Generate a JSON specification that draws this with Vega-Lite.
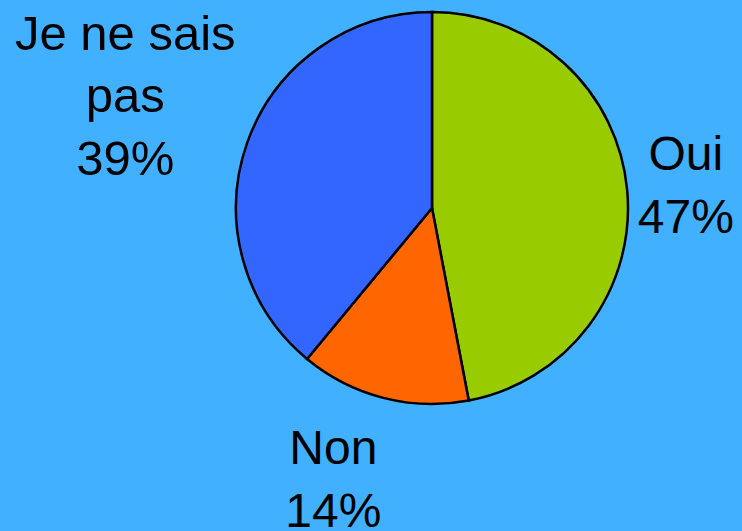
{
  "$schema": "https://vega.github.io/schema/vega-lite/v6.json",
  "width": 620,
  "height": 416,
  "autosize": {"type": "none"},
  "padding": {"left": 122, "top": 0, "right": 0, "bottom": 115},
  "background": "#40B0FF",
  "view": {"stroke": null},
  "data": {
    "values": [
      {"cat": "Oui", "k": 1, "value": 47, "label": "Oui\n47%"},
      {"cat": "Non", "k": 2, "value": 14, "label": "Non\n14%"},
      {"cat": "Je ne sais pas", "k": 3, "value": 39, "label": "Je ne sais\npas\n39%"}
    ]
  },
  "encoding": {
    "theta": {"field": "value", "type": "quantitative", "stack": true},
    "order": {"field": "k", "type": "quantitative"}
  },
  "layer": [
    {
      "mark": {"type": "arc", "outerRadius": 196, "stroke": "black", "strokeWidth": 2.5},
      "encoding": {
        "color": {
          "field": "cat",
          "type": "nominal",
          "scale": {"domain": ["Oui", "Non", "Je ne sais pas"], "range": ["#99CC00", "#FF6600", "#3366FF"]},
          "legend": null
        }
      }
    },
    {
      "mark": {"type": "text", "radius": 255, "dy": -28, "fontSize": 48, "font": "Liberation Sans", "lineBreak": "\n", "lineHeight": 63, "align": "center", "baseline": "middle", "color": "black"},
      "encoding": {"text": {"condition": {"test": "datum.cat === 'Oui'", "field": "label"}, "value": ""}}
    },
    {
      "mark": {"type": "text", "radius": 284, "dx": -28, "dy": -33, "fontSize": 48, "font": "Liberation Sans", "lineBreak": "\n", "lineHeight": 63, "align": "center", "baseline": "middle", "color": "black"},
      "encoding": {"text": {"condition": {"test": "datum.cat === 'Non'", "field": "label"}, "value": ""}}
    },
    {
      "mark": {"type": "text", "radius": 326, "dy": -63, "fontSize": 49, "font": "Liberation Sans", "lineBreak": "\n", "lineHeight": 62.5, "align": "center", "baseline": "middle", "color": "black"},
      "encoding": {"text": {"condition": {"test": "datum.cat === 'Je ne sais pas'", "field": "label"}, "value": ""}}
    }
  ]
}
